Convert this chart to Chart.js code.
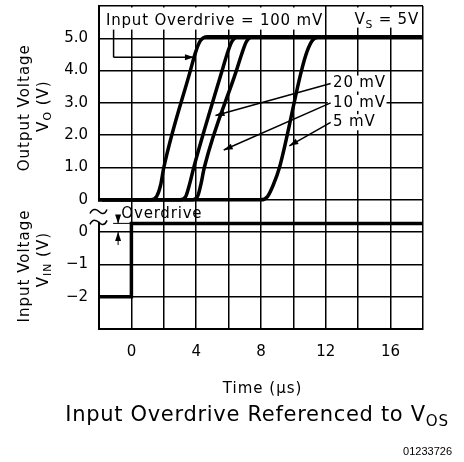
<!DOCTYPE html>
<html>
<head>
<meta charset="utf-8">
<script src="https://cdn.jsdelivr.net/npm/chart.js@4"></script>
<style>
  html, body { margin: 0; padding: 0; background: #fff; }
  #wrap { width: 464px; height: 462px; }
</style>
</head>
<body>
<div id="wrap"><canvas id="myChart" width="464" height="462"></canvas></div>
<script>
// output voltage vs time, one pair of arrays per overdrive
const t100 = [-2, 1.2, 1.55, 1.8, 2.0, 3.64, 3.95, 4.25, 4.7, 18];
const vo100 = [0, 0, 0.1, 0.45, 1.0, 4.0, 4.55, 4.92, 5.05, 5.05];
const t20 = [-2, 3.0, 3.35, 3.6, 3.85, 5.6, 5.9, 6.2, 6.6, 18];
const vo20 = [0, 0, 0.1, 0.5, 1.0, 4.0, 4.5, 4.9, 5.05, 5.05];
const t10 = [-2, 3.8, 4.1, 4.3, 4.5, 6.48, 6.8, 7.1, 7.5, 18];
const vo10 = [0, 0, 0.12, 0.5, 1.0, 4.0, 4.5, 4.9, 5.05, 5.05];
const t5 = [-2, 8.0, 8.4, 8.75, 9.14, 10.5, 10.85, 11.2, 11.7, 18];
const vo5 = [0, 0, 0.1, 0.45, 1.0, 4.0, 4.6, 4.95, 5.05, 5.05];
// input step
const tIn = [-2, 0, 0, 18];
const vIn = [-2, -2, 0.27, 0.27];

const xTickLabels = ["0", "4", "8", "12", "16"];
const xTickValues = [0, 4, 8, 12, 16];
const outTickLabels = ["0", "1.0", "2.0", "3.0", "4.0", "5.0"];
const inTickLabels = ["\u22122", "\u22121", "0"];
const IN_SHIFT = -1; // lower panel 0 sits one grid below upper 0

const FONT = '"DejaVu Sans", sans-serif';

function pts(xs, ys, shift) {
  return xs.map((x, i) => ({ x: x, y: ys[i] + (shift || 0) }));
}

function curve(xs, ys) {
  return {
    data: pts(xs, ys), showLine: true, pointRadius: 0, borderColor: '#000',
    borderWidth: 3.5, cubicInterpolationMode: 'monotone', fill: false
  };
}

function rich(ctx, parts, x, y, size, align) {
  let w = 0;
  parts.forEach(p => {
    ctx.font = (p[1] ? size * 0.72 : size) + 'px ' + FONT;
    w += ctx.measureText(p[0]).width;
  });
  let cx = align === 'right' ? x - w : align === 'left' ? x : x - w / 2;
  ctx.textAlign = 'left';
  ctx.textBaseline = 'middle';
  parts.forEach(p => {
    ctx.font = (p[1] ? size * 0.72 : size) + 'px ' + FONT;
    ctx.fillText(p[0], cx, y + (p[1] ? size * 0.3 : 0));
    cx += ctx.measureText(p[0]).width;
  });
  return w;
}

function arrow(ctx, x1, y1, x2, y2) {
  ctx.beginPath();
  ctx.moveTo(x1, y1);
  ctx.lineTo(x2, y2);
  ctx.stroke();
  const a = Math.atan2(y2 - y1, x2 - x1);
  const L = 9, W = 3;
  ctx.beginPath();
  ctx.moveTo(x2, y2);
  ctx.lineTo(x2 - L * Math.cos(a) + W * Math.sin(a), y2 - L * Math.sin(a) - W * Math.cos(a));
  ctx.lineTo(x2 - L * Math.cos(a) - W * Math.sin(a), y2 - L * Math.sin(a) + W * Math.cos(a));
  ctx.closePath();
  ctx.fill();
}

const notes = {
  id: 'notes',
  afterDraw(chart) {
    const ctx = chart.ctx, ca = chart.chartArea;
    const X = v => chart.scales.x.getPixelForValue(v);
    const Y = v => chart.scales.y.getPixelForValue(v);
    ctx.save();
    ctx.fillStyle = '#000';
    ctx.strokeStyle = '#000';

    // label boxes in top row
    ctx.fillStyle = '#fff';
    ctx.fillRect(ca.left + 1.5, ca.top + 1.5, X(12) - ca.left - 3, Y(5.27) - ca.top - 1.5);
    ctx.fillRect(X(12) + 1.5, ca.top + 1.5, ca.right - X(12) - 3, Y(5.33) - ca.top - 1.5);
    ctx.fillStyle = '#000';
    ctx.letterSpacing = '0.8px';
    rich(ctx, [['Input Overdrive = 100 mV']], ca.left + 7, Y(5.52), 15, 'left');
    rich(ctx, [['V'], ['S', 1], [' = 5V']], ca.right - 4, Y(5.56), 15, 'right');

    // 100 mV arrow
    ctx.lineWidth = 1.5;
    ctx.beginPath();
    ctx.moveTo(X(-1.1), Y(5.27));
    ctx.lineTo(X(-1.1), Y(4.41));
    ctx.stroke();
    arrow(ctx, X(-1.1), Y(4.41), X(3.86), Y(4.41));

    // curve labels
    const lab = [['20 mV', 3.6, 5.19, 2.61], ['10 mV', 3.0, 5.7, 1.54], ['5 mV', 2.4, 9.75, 1.67]];
    lab.forEach(l => {
      ctx.font = '15px ' + FONT;
      const w = ctx.measureText(l[0]).width;
      ctx.fillStyle = '#fff';
      ctx.fillRect(X(12) + 2, Y(l[1]) - 8, w + 6, 16);
      ctx.fillStyle = '#000';
      rich(ctx, [[l[0]]], X(12.45), Y(l[1]), 15, 'left');
      arrow(ctx, X(12.3), Y(l[1]), X(l[2]), Y(l[3]));
    });

    // axis break
    ctx.fillStyle = '#fff';
    ctx.fillRect(ca.left - 3, Y(0) + 2, 6, Y(-0.68) - Y(0) - 2);
    ctx.fillStyle = '#000';
    ctx.lineWidth = 1.5;
    [-0.36, -0.7].forEach(v => {
      const y = Y(v), x = ca.left;
      ctx.beginPath();
      ctx.moveTo(x - 9, y + 2);
      ctx.bezierCurveTo(x - 6, y - 5, x - 1, y - 1, x, y);
      ctx.bezierCurveTo(x + 1, y + 1, x + 5, y + 5, x + 8, y - 2);
      ctx.stroke();
    });
    rich(ctx, [['Overdrive']], X(-0.62), Y(-0.44), 15, 'left');
    ctx.lineWidth = 1;
    const xo = X(-0.82);
    ctx.beginPath();
    ctx.moveTo(xo - 5, Y(IN_SHIFT + 0.27));
    ctx.lineTo(X(0), Y(IN_SHIFT + 0.27));
    ctx.stroke();
    arrow(ctx, xo, Y(IN_SHIFT + 0.45), xo, Y(IN_SHIFT + 0.27));
    arrow(ctx, xo, Y(IN_SHIFT - 0.4), xo, Y(IN_SHIFT));

    // axis titles
    ctx.letterSpacing = '1px';
    ctx.save();
    ctx.translate(25, Y(2.85));
    ctx.rotate(-Math.PI / 2);
    rich(ctx, [['Output Voltage']], 0, 0, 15, 'center');
    ctx.restore();
    ctx.save();
    ctx.translate(44, Y(2.9));
    ctx.rotate(-Math.PI / 2);
    rich(ctx, [['V'], ['O', 1], [' (V)']], 0, 0, 15, 'center');
    ctx.restore();
    ctx.save();
    ctx.translate(25, Y(-2.05));
    ctx.rotate(-Math.PI / 2);
    rich(ctx, [['Input Voltage']], 0, 0, 15, 'center');
    ctx.restore();
    ctx.save();
    ctx.translate(44, Y(-1.85));
    ctx.rotate(-Math.PI / 2);
    rich(ctx, [['V'], ['IN', 1], [' (V)']], 0, 0, 15, 'center');
    ctx.restore();

    rich(ctx, [['Time (\u03bcs)']], X(8.1), 389, 15, 'center');
    ctx.letterSpacing = '0.7px';
    rich(ctx, [['Input Overdrive Referenced to V'], ['OS', 1]], 257, 416, 21, 'center');
    ctx.letterSpacing = '0px';
    ctx.font = '11px "Liberation Sans", Arial, sans-serif';
    ctx.textAlign = 'right';
    ctx.fillText('01233726', 452, 452);
    ctx.restore();
  }
};

new Chart('myChart', {
  type: 'scatter',
  data: {
    datasets: [
      curve(t100, vo100),
      curve(t20, vo20),
      curve(t10, vo10),
      curve(t5, vo5),
      {
        data: pts(tIn, vIn, IN_SHIFT), showLine: true, pointRadius: 0,
        borderColor: '#000', borderWidth: 3.5, tension: 0, fill: false
      }
    ]
  },
  options: {
    responsive: false,
    animation: false,
    devicePixelRatio: 1,
    layout: { padding: { top: 6, right: 41, left: 0, bottom: 0 } },
    plugins: { legend: { display: false }, tooltip: { enabled: false } },
    scales: {
      x: {
        type: 'linear', min: -2, max: 18,
        afterFit: s => { s.height = 133; s.paddingLeft = 0; s.paddingRight = 0; },
        grid: { color: '#000', lineWidth: 1.5, drawTicks: false },
        border: { color: '#000', width: 2 },
        ticks: {
          stepSize: 2, autoSkip: false, maxRotation: 0, padding: 14, color: '#000',
          font: { family: 'DejaVu Sans', size: 15 },
          callback: v => { const i = xTickValues.indexOf(v); return i < 0 ? '' : xTickLabels[i]; }
        }
      },
      y: {
        type: 'linear', min: -4, max: 6,
        afterFit: s => { s.width = 99; s.paddingTop = 0; s.paddingBottom = 0; },
        grid: { color: '#000', lineWidth: 1.5, drawTicks: false },
        border: { color: '#000', width: 2 },
        ticks: {
          stepSize: 1, autoSkip: false, padding: 11, color: '#000',
          font: { family: 'DejaVu Sans', size: 15, lineHeight: 0.1 },
          callback: v => {
            if (v >= 0) return outTickLabels[v] || '';
            const k = v - IN_SHIFT + 2;
            return inTickLabels[k] || '';
          }
        }
      }
    }
  },
  plugins: [notes]
});
</script>
</body>
</html>
